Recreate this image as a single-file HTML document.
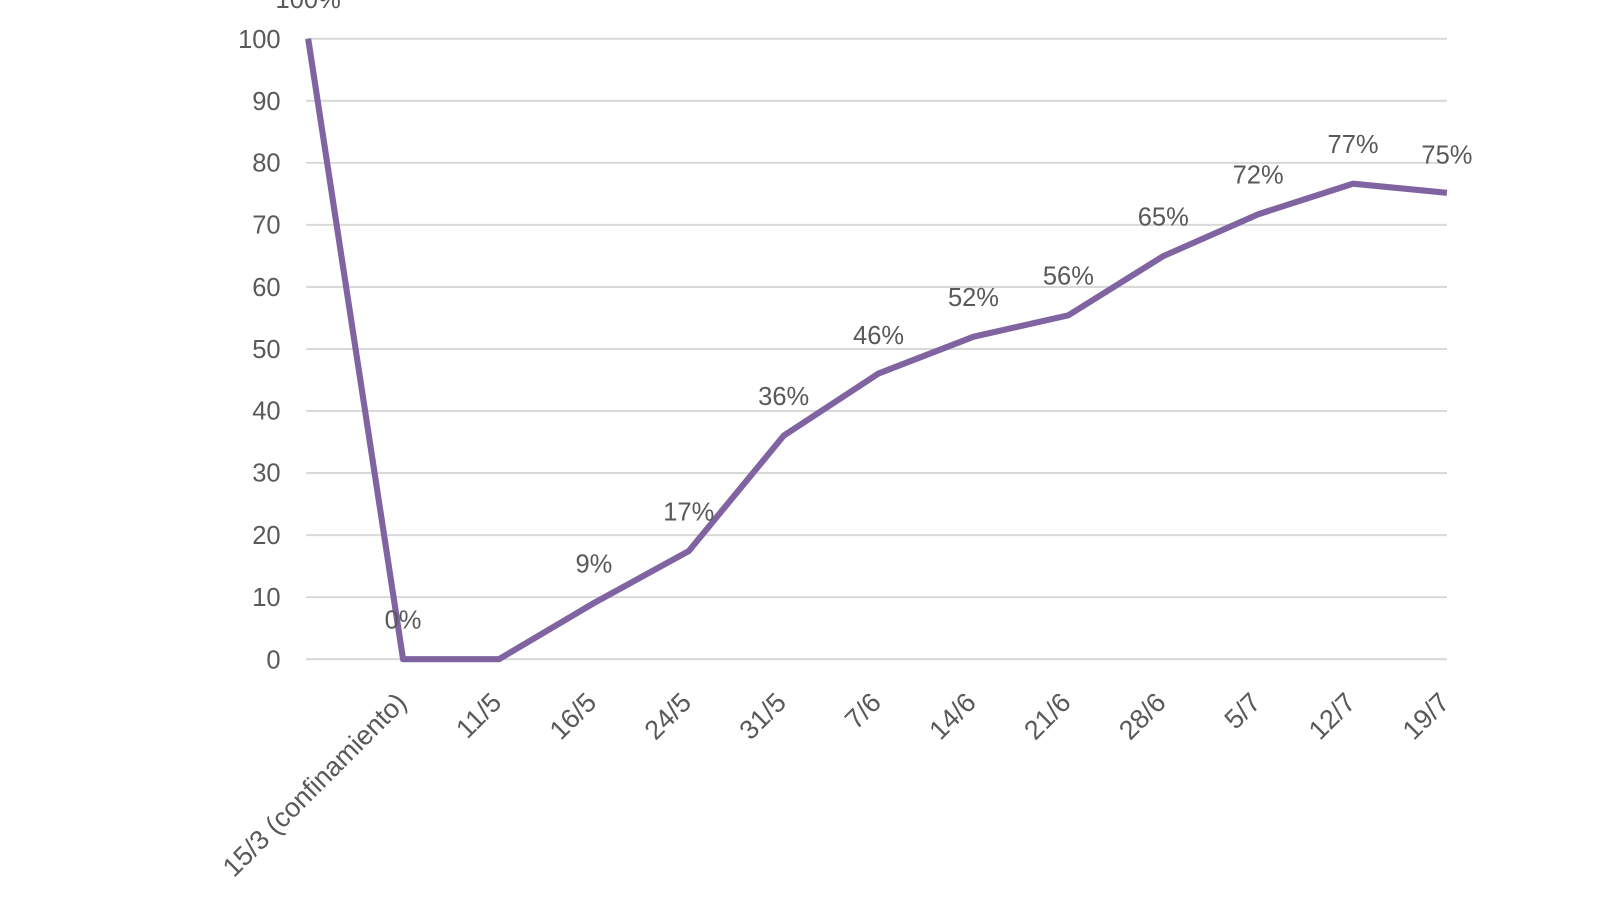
<!DOCTYPE html>
<html><head><meta charset="utf-8"><style>
html,body{margin:0;padding:0;background:#fff;width:1600px;height:900px;overflow:hidden}
text{font-family:"Liberation Sans",sans-serif;fill:#595959}
</style></head><body>
<svg width="1600" height="900" viewBox="0 0 1600 900" xmlns="http://www.w3.org/2000/svg">
<g transform="scale(1.0204)">
<g stroke="#d9d9d9" stroke-width="2">
<line x1="300" y1="38" x2="1418" y2="38"/>
<line x1="300" y1="98.8" x2="1418" y2="98.8"/>
<line x1="300" y1="159.6" x2="1418" y2="159.6"/>
<line x1="300" y1="220.4" x2="1418" y2="220.4"/>
<line x1="300" y1="281.2" x2="1418" y2="281.2"/>
<line x1="300" y1="342" x2="1418" y2="342"/>
<line x1="300" y1="402.8" x2="1418" y2="402.8"/>
<line x1="300" y1="463.6" x2="1418" y2="463.6"/>
<line x1="300" y1="524.4" x2="1418" y2="524.4"/>
<line x1="300" y1="585.2" x2="1418" y2="585.2"/>
<line x1="300" y1="646" x2="1418" y2="646"/>
</g>
<g font-size="25" text-anchor="end">
<text x="275" y="47">100</text><text x="275" y="108">90</text><text x="275" y="168">80</text>
<text x="275" y="229">70</text><text x="275" y="290">60</text><text x="275" y="351">50</text>
<text x="275" y="411">40</text><text x="275" y="472">30</text><text x="275" y="533">20</text>
<text x="275" y="594">10</text><text x="275" y="655">0</text>
</g>
<polyline fill="none" stroke="#8064a2" stroke-width="6" stroke-linejoin="round"
points="302,38 395,646 489,646 582,591 675,540 768,427 861,366 954,330 1047,309 1140,251 1233,210 1326,180 1418,189"/>
<g font-size="25" text-anchor="middle">
<text x="302" y="8">100%</text>
<text x="395" y="616">0%</text>
<text x="582" y="561">9%</text>
<text x="675" y="510">17%</text>
<text x="768" y="397">36%</text>
<text x="861" y="337">46%</text>
<text x="954" y="300">52%</text>
<text x="1047" y="279">56%</text>
<text x="1140" y="221">65%</text>
<text x="1233" y="180">72%</text>
<text x="1326" y="150">77%</text>
<text x="1418" y="160">75%</text>
</g>
<g font-size="26.5" text-anchor="end">
<text transform="translate(400,690) rotate(-45)">15/3 (confinamiento)</text>
<text transform="translate(493,690) rotate(-45)">11/5</text>
<text transform="translate(586,690) rotate(-45)">16/5</text>
<text transform="translate(679,690) rotate(-45)">24/5</text>
<text transform="translate(772,690) rotate(-45)">31/5</text>
<text transform="translate(865,690) rotate(-45)">7/6</text>
<text transform="translate(958,690) rotate(-45)">14/6</text>
<text transform="translate(1051,690) rotate(-45)">21/6</text>
<text transform="translate(1144,690) rotate(-45)">28/6</text>
<text transform="translate(1237,690) rotate(-45)">5/7</text>
<text transform="translate(1330,690) rotate(-45)">12/7</text>
<text transform="translate(1422,690) rotate(-45)">19/7</text>
</g>
</g>
</svg>
</body></html>
